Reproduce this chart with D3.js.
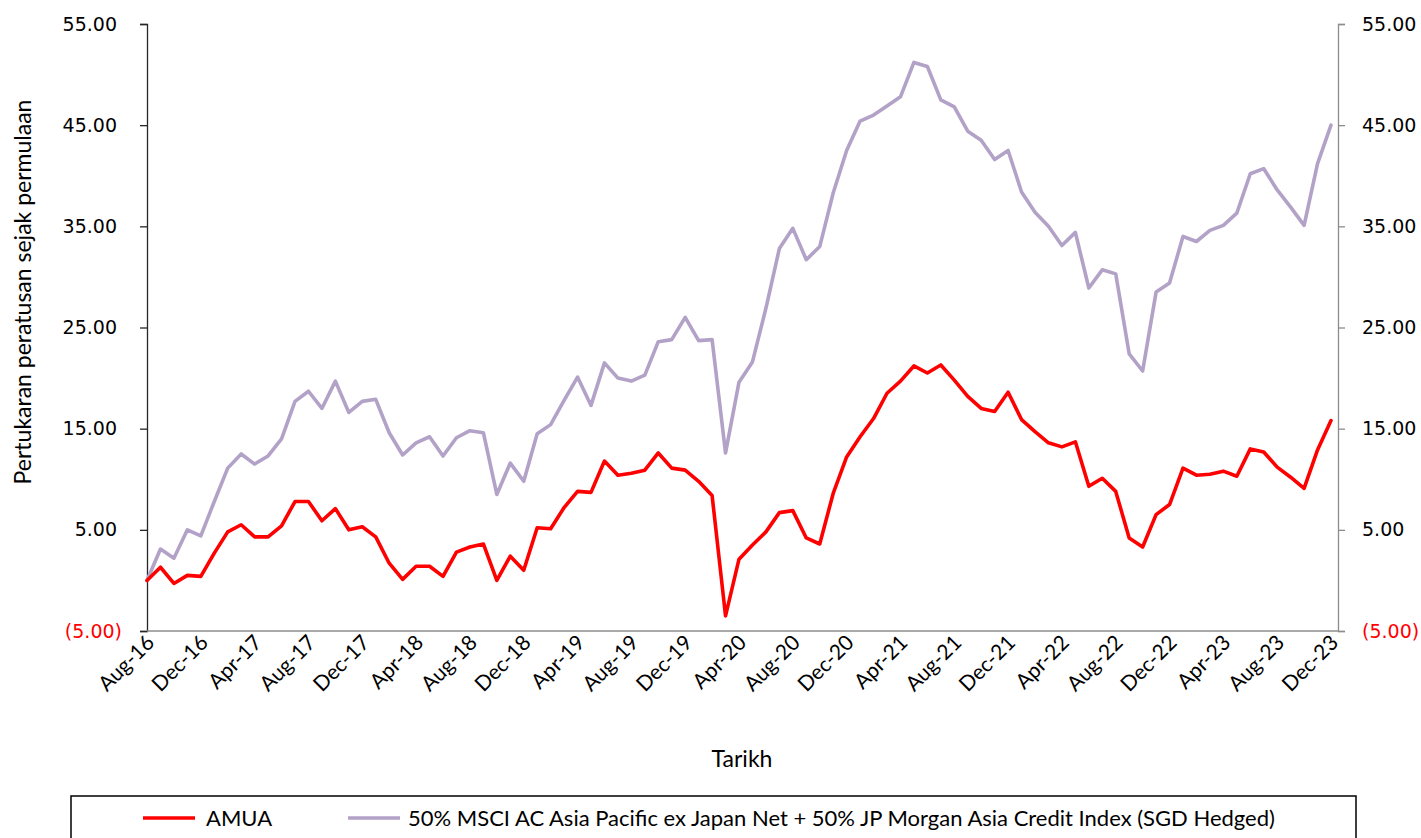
<!DOCTYPE html>
<html>
<head>
<meta charset="utf-8">
<script src="https://cdn.jsdelivr.net/npm/d3@7"></script>
<style>
  html, body { margin: 0; padding: 0; background: #fff; }
  svg { display: block; }
</style>
</head>
<body>
<svg id="chart" width="1421" height="838"></svg>
<script>
const months = [
  "Aug-16","Sep-16","Oct-16","Nov-16","Dec-16",
  "Jan-17","Feb-17","Mar-17","Apr-17","May-17","Jun-17","Jul-17","Aug-17","Sep-17","Oct-17","Nov-17","Dec-17",
  "Jan-18","Feb-18","Mar-18","Apr-18","May-18","Jun-18","Jul-18","Aug-18","Sep-18","Oct-18","Nov-18","Dec-18",
  "Jan-19","Feb-19","Mar-19","Apr-19","May-19","Jun-19","Jul-19","Aug-19","Sep-19","Oct-19","Nov-19","Dec-19",
  "Jan-20","Feb-20","Mar-20","Apr-20","May-20","Jun-20","Jul-20","Aug-20","Sep-20","Oct-20","Nov-20","Dec-20",
  "Jan-21","Feb-21","Mar-21","Apr-21","May-21","Jun-21","Jul-21","Aug-21","Sep-21","Oct-21","Nov-21","Dec-21",
  "Jan-22","Feb-22","Mar-22","Apr-22","May-22","Jun-22","Jul-22","Aug-22","Sep-22","Oct-22","Nov-22","Dec-22",
  "Jan-23","Feb-23","Mar-23","Apr-23","May-23","Jun-23","Jul-23","Aug-23","Sep-23","Oct-23","Nov-23","Dec-23"
];

const amua = [
  0.0, 1.3, -0.3, 0.5, 0.4,
  2.7, 4.8, 5.5, 4.3, 4.3, 5.4, 7.8, 7.8, 5.9, 7.1, 5.0, 5.3,
  4.3, 1.7, 0.1, 1.4, 1.4, 0.4, 2.8, 3.3, 3.6, 0.0, 2.4, 1.0,
  5.2, 5.1, 7.2, 8.8, 8.7, 11.8, 10.4, 10.6, 10.9, 12.6, 11.1, 10.9,
  9.8, 8.4, -3.5, 2.1, 3.5, 4.8, 6.7, 6.9, 4.2, 3.6, 8.6, 12.2,
  14.2, 16.0, 18.5, 19.7, 21.2, 20.5, 21.3, 19.8, 18.2, 17.0, 16.7, 18.6,
  15.9, 14.7, 13.6, 13.2, 13.7, 9.3, 10.1, 8.8, 4.2, 3.3, 6.5, 7.5,
  11.1, 10.4, 10.5, 10.8, 10.3, 13.0, 12.7, 11.2, 10.2, 9.1, 12.9, 15.8
];

const benchmark = [
  0.0, 3.1, 2.2, 5.0, 4.4,
  7.8, 11.1, 12.5, 11.5, 12.3, 14.0, 17.7, 18.7, 17.0, 19.7, 16.6, 17.7,
  17.9, 14.6, 12.4, 13.6, 14.2, 12.3, 14.1, 14.8, 14.6, 8.5, 11.6, 9.8,
  14.5, 15.4, 17.8, 20.1, 17.3, 21.5, 20.0, 19.7, 20.3, 23.6, 23.8, 26.0,
  23.7, 23.8, 12.6, 19.6, 21.6, 26.9, 32.8, 34.8, 31.7, 33.0, 38.3, 42.5,
  45.4, 46.0, 46.9, 47.8, 51.2, 50.8, 47.5, 46.8, 44.4, 43.5, 41.6, 42.5,
  38.4, 36.4, 35.0, 33.1, 34.4, 28.9, 30.7, 30.3, 22.4, 20.7, 28.5, 29.4,
  34.0, 33.5, 34.6, 35.1, 36.3, 40.2, 40.7, 38.6, 36.9, 35.1, 41.2, 45.0
];

const yTicks = [-5, 5, 15, 25, 35, 45, 55];
const seriesNames = ["AMUA", "50% MSCI AC Asia Pacific ex Japan Net + 50% JP Morgan Asia Credit Index (SGD Hedged)"];
const seriesColors = ["#FF0000", "#B3A2C7"];
const xTitle = "Tarikh";
const yTitle = "Pertukaran peratusan sejak permulaan";

const svg = d3.select("#chart");
const plotLeft = 147, plotRight = 1338, plotTop = 24, plotBottom = 631;

const x = d3.scalePoint().domain(months).range([plotLeft, 1331]);
const y = d3.scaleLinear().domain([-5, 55]).range([plotBottom, plotTop]);

const fmt = v => v < 0 ? "(" + d3.format(".2f")(-v) + ")" : d3.format(".2f")(v);
const numFont = "'DejaVu Sans', Verdana, sans-serif";
const txtFont = "Lato, 'Open Sans', sans-serif";

// Left axis
const leftAxis = svg.append("g").attr("transform", `translate(${plotLeft},0)`)
  .call(d3.axisLeft(y).tickValues(yTicks).tickFormat(fmt).tickSize(7).tickPadding(18));
leftAxis.select(".domain").attr("stroke", "#262626").attr("stroke-width", 1.3);
leftAxis.selectAll(".tick line").attr("stroke", "#262626").attr("stroke-width", 1.3);
leftAxis.selectAll(".tick text")
  .attr("font-family", numFont).attr("font-size", 19)
  .attr("dx", d => d < 0 ? 0 : -5)
  .attr("fill", d => d < 0 ? "#FF0000" : "#000");

// Right axis
const rightAxis = svg.append("g").attr("transform", `translate(${plotRight},0)`)
  .call(d3.axisRight(y).tickValues(yTicks).tickFormat(fmt).tickSize(7).tickPadding(17));
rightAxis.select(".domain").attr("stroke", "#8C8C8C").attr("stroke-width", 1.3);
rightAxis.selectAll(".tick line").attr("stroke", "#8C8C8C").attr("stroke-width", 1.3);
rightAxis.selectAll(".tick text")
  .attr("font-family", numFont).attr("font-size", 19)
  .attr("fill", d => d < 0 ? "#FF0000" : "#000");

// Bottom axis
const bottomAxis = svg.append("g").attr("transform", `translate(0,${plotBottom})`)
  .call(d3.axisBottom(x).tickValues(months.filter((m, i) => i % 4 === 0)).tickSize(0).tickPadding(0));
bottomAxis.select(".domain").attr("d", `M${plotLeft},0H${plotRight}`)
  .attr("stroke", "#8C8C8C").attr("stroke-width", 1.3);
bottomAxis.selectAll(".tick text")
  .attr("font-family", txtFont).attr("font-size", 21).attr("fill", "#000")
  .attr("text-anchor", "end")
  .attr("dy", 0)
  .attr("transform", "translate(8,13) rotate(-45)");

// Lines
const line = d3.line().x((d, i) => x(months[i])).y(d => y(d));
[benchmark, amua].forEach((series, k) => {
  const idx = k === 0 ? 1 : 0;
  svg.append("path").datum(series)
    .attr("d", line)
    .attr("fill", "none")
    .attr("stroke", seriesColors[idx])
    .attr("stroke-width", 3.6)
    .attr("stroke-linejoin", "round")
    .attr("stroke-linecap", "round");
});

// Axis titles
svg.append("text").text(yTitle)
  .attr("transform", `translate(31,292) rotate(-90)`)
  .attr("text-anchor", "middle")
  .attr("font-family", txtFont).attr("font-size", 23).attr("fill", "#000");

svg.append("text").text(xTitle)
  .attr("x", 742).attr("y", 767)
  .attr("text-anchor", "middle")
  .attr("font-family", txtFont).attr("font-size", 23).attr("fill", "#000");

// Legend
const legend = svg.append("g");
legend.append("rect")
  .attr("x", 71).attr("y", 796).attr("width", 1285).attr("height", 60)
  .attr("fill", "none").attr("stroke", "#000").attr("stroke-width", 1.5);
const legendItems = [{x: 143, tx: 206, name: seriesNames[0], color: seriesColors[0]},
                     {x: 348, tx: 408, name: seriesNames[1], color: seriesColors[1]}];
legendItems.forEach(it => {
  legend.append("line").attr("x1", it.x).attr("x2", it.x + 52)
    .attr("y1", 818).attr("y2", 818)
    .attr("stroke", it.color).attr("stroke-width", 3.6);
  legend.append("text").text(it.name)
    .attr("x", it.tx).attr("y", 826)
    .attr("font-family", txtFont).attr("font-size", 22).attr("fill", "#000");
});
</script>
</body>
</html>
